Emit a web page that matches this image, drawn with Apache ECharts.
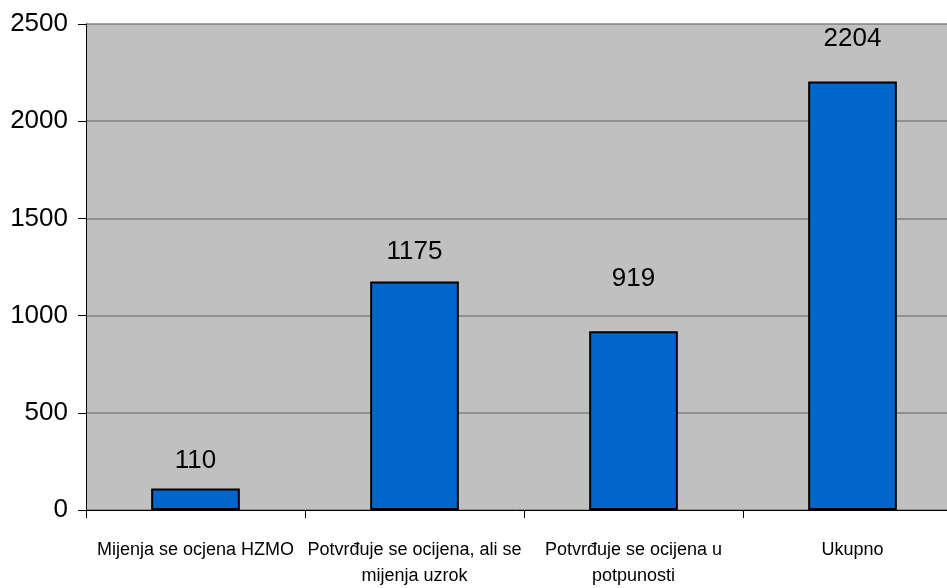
<!DOCTYPE html>
<html><head><meta charset="utf-8">
<script src="https://cdn.jsdelivr.net/npm/echarts@6/dist/echarts.min.js"></script>
<style>html,body{margin:0;padding:0;background:#fff}#c{width:947px;height:588px}</style>
</head><body><div id="c"></div>
<script>
var categories = ["Mijenja se ocjena HZMO", "Potvrđuje se ocijena, ali se\nmijenja uzrok", "Potvrđuje se ocijena u\npotpunosti", "Ukupno"];
var values = [110, 1175, 919, 2204];
var yTicks = [0, 500, 1000, 1500, 2000, 2500];
var labelGaps = [15, 17, 40, 30];

var chart = echarts.init(document.getElementById('c'), null, {renderer: 'canvas'});
var FONT = '"Liberation Sans", Arial, sans-serif';
chart.setOption({
  animation: false,
  backgroundColor: '#ffffff',
  grid: {left: 86, width: 876, top: 24, bottom: 78, outerBoundsMode: 'none', containLabel: false, show: true, backgroundColor: '#c0c0c0', borderWidth: 0},
  xAxis: {
    type: 'category', data: categories,
    axisLine: {lineStyle: {color: '#000', width: 1}},
    axisTick: {show: true, length: 8, alignWithLabel: false, lineStyle: {color: '#000'}},
    axisLabel: {color: '#000', fontFamily: FONT, fontSize: 18, margin: 27, lineHeight: 26, interval: 0}
  },
  yAxis: {
    type: 'value', min: yTicks[0], max: yTicks[yTicks.length - 1], interval: 500,
    axisLine: {show: true, lineStyle: {color: '#000', width: 1}},
    axisTick: {show: true, length: 8, lineStyle: {color: '#000'}},
    axisLabel: {color: '#000', fontFamily: FONT, fontSize: 26, margin: 18, formatter: function (v) { return String(v); }},
    splitLine: {show: true, lineStyle: {color: '#808080', width: 1.5}}
  },
  series: [{
    type: 'bar',
    barWidth: '40.5%',
    data: values.map(function (v, i) {
      return {value: v, label: {distance: labelGaps[i]}};
    }),
    itemStyle: {color: '#0066cc', borderColor: '#000', borderWidth: 2},
    label: {show: true, position: 'top', color: '#000', fontFamily: FONT, fontSize: 26}
  }]
});
</script></body></html>
